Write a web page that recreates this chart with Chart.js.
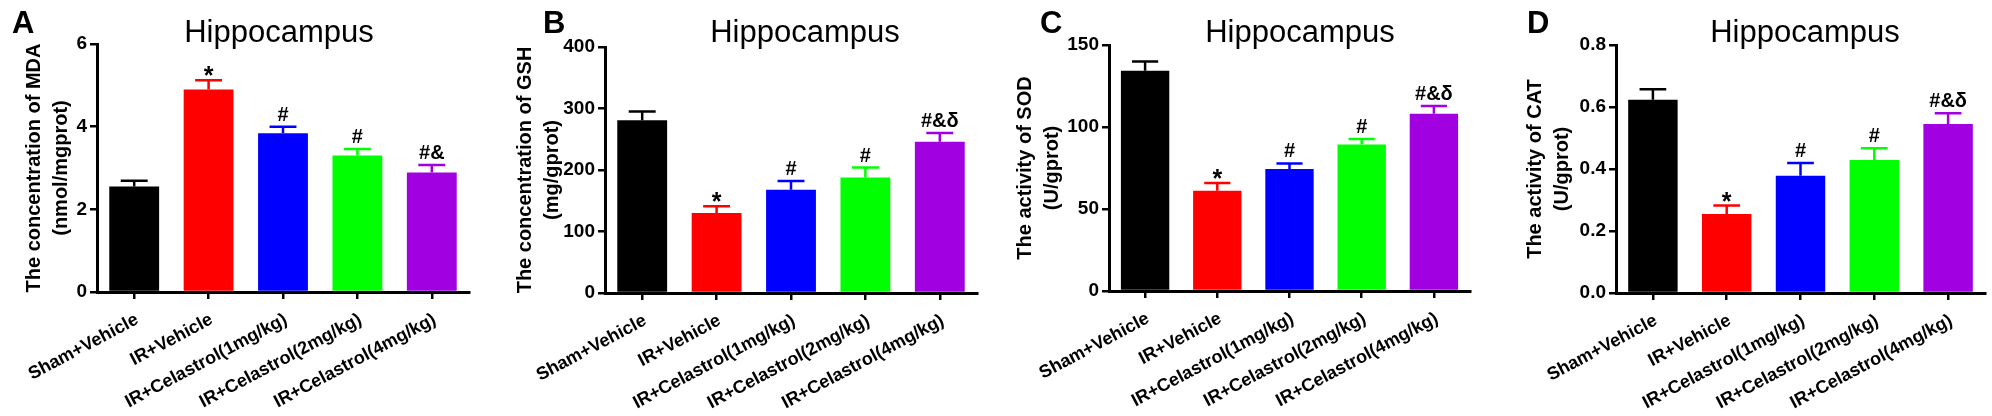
<!DOCTYPE html>
<html>
<head>
<meta charset="utf-8">
<script src="https://cdn.jsdelivr.net/npm/chart.js@4.4.1/dist/chart.umd.min.js"></script>
<style>
  html, body { margin: 0; padding: 0; background: #fff; }
  #wrap { position: relative; width: 1992px; height: 416px; overflow: hidden; }
  .panel { position: absolute; top: 0; height: 416px; }
</style>
</head>
<body>
<div id="wrap"></div>
<script>
// groups on the x axis (same for all four panels)
const groups = ['Sham+Vehicle', 'IR+Vehicle', 'IR+Celastrol(1mg/kg)', 'IR+Celastrol(2mg/kg)', 'IR+Celastrol(4mg/kg)'];
const barColors = ['#000000', '#ff0000', '#0000ff', '#00ff00', '#a100e0'];

// A - MDA
const mdaMean  = [2.55, 4.90, 3.84, 3.30, 2.89];
const mdaErr   = [0.14, 0.22, 0.16, 0.16, 0.18];
const mdaMarks = ['', '*', '#', '#', '#&'];

// B - GSH
const gshMean  = [281, 130, 168, 188, 246];
const gshErr   = [14, 11, 14, 16, 14];
const gshMarks = ['', '*', '#', '#', '#&δ'];

// C - SOD
const sodMean  = [134.3, 61.2, 74.4, 89.4, 108.1];
const sodErr   = [5.7, 4.7, 3.4, 3.3, 4.7];
const sodMarks = ['', '*', '#', '#', '#&δ'];

// D - CAT
const catMean  = [0.623, 0.255, 0.378, 0.429, 0.545];
const catErr   = [0.034, 0.027, 0.041, 0.038, 0.035];
const catMarks = ['', '*', '#', '#', '#&δ'];

// y axis ranges / tick steps
const yMax   = [6, 400, 150, 0.8];
const yStep  = [2, 100, 50, 0.2];
const yDecimals = [0, 0, 0, 1];

const yTitles = [
  ['The concentration of MDA', '(nmol/mgprot)'],
  ['The concentration of GSH', '(mg/gprot)'],
  ['The activity of SOD', '(U/gprot)'],
  ['The activity of CAT', '(U/gprot)']
];
const letters = ['A', 'B', 'C', 'D'];
const panelTitle = 'Hippocampus';

// page layout of each panel (pixels)
const panels = [
  { left: 0,    width: 490, area: { l: 97,  r: 469, t: 44, b: 292 }, yPad: 21, titleX: 279, letterX: 12 },
  { left: 490,  width: 500, area: { l: 115, r: 487, t: 47, b: 293 }, yPad: 22, titleX: 315, letterX: 53 },
  { left: 990,  width: 500, area: { l: 119, r: 480, t: 45, b: 291 }, yPad: 22, titleX: 310, letterX: 50 },
  { left: 1492, width: 500, area: { l: 124, r: 493, t: 45, b: 293 }, yPad: 30, titleX: 313, letterX: 35 }
];

const means = [mdaMean, gshMean, sodMean, catMean];
const errs  = [mdaErr, gshErr, sodErr, catErr];
const marks = [mdaMarks, gshMarks, sodMarks, catMarks];

const FONT = '"Liberation Sans", Arial, Helvetica, sans-serif';
Chart.defaults.font.family = FONT;
Chart.defaults.color = '#000';

// error bars + significance marks, drawn through the y scale
const errorBarPlugin = {
  id: 'errorBars',
  afterDatasetsDraw(chart, args, opts) {
    const ctx = chart.ctx;
    const y = chart.scales.y;
    const meta = chart.getDatasetMeta(0);
    ctx.save();
    meta.data.forEach((bar, i) => {
      const top = y.getPixelForValue(opts.mean[i] + opts.err[i]);
      const capHalf = bar.width * 0.27;
      ctx.strokeStyle = barColors[i];
      ctx.lineWidth = 2.5;
      ctx.beginPath();
      ctx.moveTo(bar.x, bar.y);
      ctx.lineTo(bar.x, top);
      ctx.moveTo(bar.x - capHalf, top);
      ctx.lineTo(bar.x + capHalf, top);
      ctx.stroke();
      const m = opts.marks[i];
      if (m) {
        ctx.fillStyle = '#000';
        ctx.textAlign = 'center';
        ctx.textBaseline = 'alphabetic';
        if (m === '*') {
          ctx.font = 'bold 25px ' + FONT;
          ctx.fillText(m, bar.x, top + 4);
        } else {
          ctx.font = 'bold 20px ' + FONT;
          ctx.fillText(m, bar.x, top - 6);
        }
      }
    });
    ctx.restore();
  }
};

// panel letter and title
const headPlugin = {
  id: 'head',
  afterDraw(chart, args, opts) {
    const ctx = chart.ctx;
    ctx.save();
    ctx.fillStyle = '#000';
    ctx.textBaseline = 'alphabetic';
    ctx.textAlign = 'left';
    ctx.font = 'bold 31px ' + FONT;
    ctx.fillText(opts.letter, opts.letterX, 33);
    ctx.textAlign = 'center';
    ctx.font = '31px ' + FONT;
    ctx.fillText(panelTitle, opts.titleX, 42);
    ctx.restore();
  }
};

const wrap = document.getElementById('wrap');

panels.forEach((p, k) => {
  const div = document.createElement('div');
  div.className = 'panel';
  div.style.left = p.left + 'px';
  div.style.width = p.width + 'px';
  const canvas = document.createElement('canvas');
  canvas.width = p.width;
  canvas.height = 416;
  div.appendChild(canvas);
  wrap.appendChild(div);

  new Chart(canvas, {
    type: 'bar',
    data: {
      labels: groups,
      datasets: [{
        data: means[k],
        backgroundColor: barColors,
        borderWidth: 0,
        categoryPercentage: 1,
        barPercentage: 0.67
      }]
    },
    options: {
      responsive: false,
      animation: false,
      devicePixelRatio: 1,
      layout: { padding: { left: 0, top: p.area.t, right: p.width - p.area.r, bottom: 0 } },
      plugins: {
        legend: { display: false },
        tooltip: { enabled: false },
        title: { display: false },
        errorBars: { mean: means[k], err: errs[k], marks: marks[k] },
        head: { letter: letters[k], letterX: p.letterX, titleX: p.titleX }
      },
      scales: {
        x: {
          afterFit: s => { s.height = 416 - p.area.b; },
          grid: { display: true, drawOnChartArea: false, offset: false, tickLength: 7, color: '#000', lineWidth: 2.5 },
          border: { display: true, color: '#000', width: 3 },
          ticks: {
            autoSkip: false, minRotation: 28, maxRotation: 28, padding: 10, labelOffset: 3,
            font: { size: 18, weight: 'bold' }, color: '#000'
          }
        },
        y: {
          min: 0, max: yMax[k],
          afterFit: s => { s.width = p.area.l; },
          grid: { display: true, drawOnChartArea: false, tickLength: 7, color: '#000', lineWidth: 2.5 },
          border: { display: true, color: '#000', width: 3 },
          ticks: {
            stepSize: yStep[k], padding: 3,
            font: { size: 19, weight: 'bold' }, color: '#000',
            callback: v => Number(v).toFixed(yDecimals[k])
          },
          title: {
            display: true, text: yTitles[k], color: '#000',
            font: { size: 20, weight: 'bold', lineHeight: 1.35 },
            padding: { top: p.yPad, bottom: 0 }
          }
        }
      }
    },
    plugins: [errorBarPlugin, headPlugin]
  });
});
</script>
</body>
</html>
